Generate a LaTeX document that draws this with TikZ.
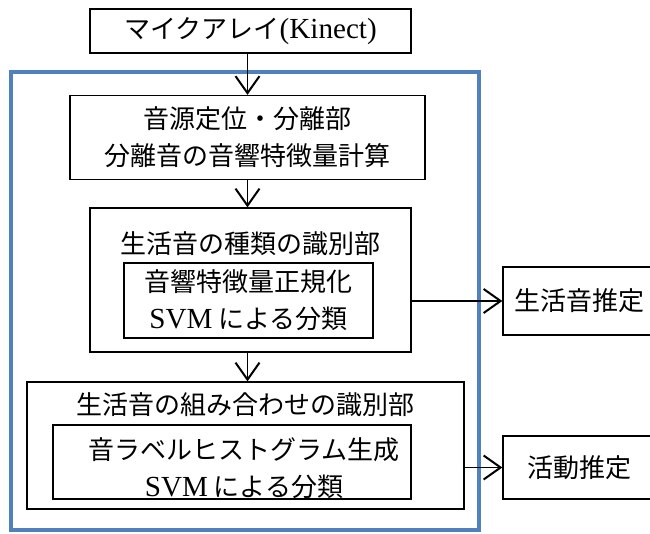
\documentclass[tikz,border=0pt]{standalone}
\usepackage{fontspec}
\setmainfont{Liberation Serif}[Scale=1.12]
\newfontfamily\cjk{Noto Sans CJK JP}
\usetikzlibrary{arrows.meta}
\definecolor{frameblue}{RGB}{79,129,189}
\newcommand\latn[1]{{\rmfamily #1}}
\begin{document}
\begin{tikzpicture}[x=1pt,y=-1pt,
  box/.style={draw,line width=1.3pt,inner sep=0pt,rectangle},
  inbox/.style={draw,line width=2.5pt,inner sep=0pt,rectangle},
  jp/.style={font=\cjk\fontsize{26}{37}\selectfont,align=center,inner sep=0pt},
  arr/.style={line width=1.9pt,-{Straight Barb[length=17pt,width=24pt,line width=2pt]}}]
\useasboundingbox (0,0) rectangle (650,534);
\clip (0,0) rectangle (650,534);
\node[draw=frameblue,line width=4.5pt,inner sep=0pt,minimum width=468pt,minimum height=458pt] (frame) at (245,301) {};
\node[box,jp,minimum width=321pt,minimum height=44pt] (top) at (250.5,31) {マイクアレイ\latn{(Kinect)}};
\node[box,jp,minimum width=355pt,minimum height=84pt] (b1) at (247.5,137.5) {音源定位・分離部\\分離音の音響特徴量計算};
\node[box,minimum width=321pt,minimum height=144pt] (b2) at (250.5,280) {};
\node[jp] (b2t) at (250.5,244) {生活音の種類の識別部};
\node[inbox,jp,minimum width=249pt,minimum height=75pt] (b2i) at (248.5,300.5) {音響特徴量正規化\\\latn{SVM} による分類};
\node[box,minimum width=437pt,minimum height=127pt] (b3) at (245.5,445.5) {};
\node[jp] (b3t) at (245.5,405) {生活音の組み合わせの識別部};
\node[inbox,minimum width=358pt,minimum height=74pt] (b3i) at (232,462) {};
\node[jp] (b3tx) at (244,468) {音ラベルヒストグラム生成\\\latn{SVM} による分類};
\node[box,jp,minimum width=152pt,minimum height=68pt] (e1) at (579,301) {生活音推定};
\node[box,jp,minimum width=152pt,minimum height=63pt] (e2) at (579,467.5) {活動推定};
\draw[arr] (b1.north |- top.south) -- (b1.north);
\draw[arr] (b1.south) -- (b1.south |- b2.north);
\draw[arr] (b1.south |- b2.south) -- (b1.south |- b3.north);
\draw[arr] (e1.west -| b2.east) -- (e1.west);
\draw[arr] (e2.west -| b3.east) -- (e2.west);
\end{tikzpicture}
\end{document}
